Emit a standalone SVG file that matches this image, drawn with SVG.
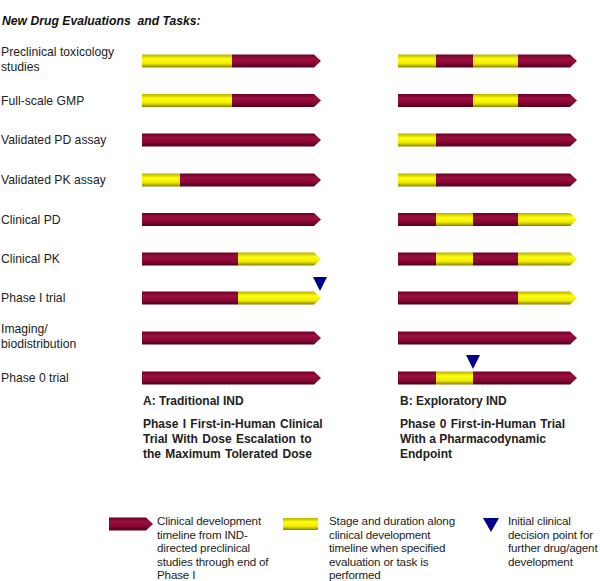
<svg xmlns="http://www.w3.org/2000/svg" width="600" height="581" viewBox="0 0 600 581">
<defs>
<linearGradient id="gr" x1="0" y1="0" x2="0" y2="1">
<stop offset="0" stop-color="#6e0026"/>
<stop offset="0.35" stop-color="#9a1042"/>
<stop offset="0.7" stop-color="#85062f"/>
<stop offset="1" stop-color="#4e0018"/>
</linearGradient>
<linearGradient id="gy" x1="0" y1="0" x2="0" y2="1">
<stop offset="0" stop-color="#b8b000"/>
<stop offset="0.35" stop-color="#ffff10"/>
<stop offset="0.7" stop-color="#eeea00"/>
<stop offset="1" stop-color="#8a8200"/>
</linearGradient>
<style>
.r{fill:url(#gr)}
.y{fill:url(#gy)}
.lbl{font-family:"Liberation Sans",Arial,sans-serif;font-size:12.2px;fill:#222}
.ttl{font-family:"Liberation Sans",Arial,sans-serif;font-size:12.2px;font-weight:bold;font-style:italic;fill:#111}
.hd{font-family:"Liberation Sans",Arial,sans-serif;font-size:12px;font-weight:bold;fill:#222}
.lg{font-family:"Liberation Sans",Arial,sans-serif;font-size:11.6px;fill:#222;letter-spacing:-0.15px}
.tri{fill:#00008b}
</style>
</defs>
<rect width="600" height="581" fill="#fff"/>
<text class="ttl" x="2" y="25" xml:space="preserve">New Drug Evaluations  and Tasks:</text>

<g id="row1">
<text class="lbl" x="1" y="56">Preclinical toxicology</text>
<text class="lbl" x="1" y="71">studies</text>
<rect class="y" x="142" y="54.5" width="90" height="13"/>
<path class="r" d="M232,54.5H314L321,61L314,67.5H232Z"/>
<rect class="y" x="398" y="54.5" width="38" height="13"/>
<rect class="r" x="436" y="54.5" width="37" height="13"/>
<rect class="y" x="473" y="54.5" width="45" height="13"/>
<path class="r" d="M518,54.5H570L577,61L570,67.5H518Z"/>
</g>

<g id="row2">
<text class="lbl" x="1" y="104.5">Full-scale GMP</text>
<rect class="y" x="142" y="94" width="90" height="13"/>
<path class="r" d="M232,94H314L321,100.5L314,107H232Z"/>
<rect class="r" x="398" y="94" width="75" height="13"/>
<rect class="y" x="473" y="94" width="45" height="13"/>
<path class="r" d="M518,94H570L577,100.5L570,107H518Z"/>
</g>

<g id="row3">
<text class="lbl" x="1" y="144">Validated PD assay</text>
<path class="r" d="M142,133.5H314L321,140L314,146.5H142Z"/>
<rect class="y" x="398" y="133.5" width="38" height="13"/>
<path class="r" d="M436,133.5H570L577,140L570,146.5H436Z"/>
</g>

<g id="row4">
<text class="lbl" x="1" y="184">Validated PK assay</text>
<rect class="y" x="142" y="173.5" width="38" height="13"/>
<path class="r" d="M180,173.5H314L321,180L314,186.5H180Z"/>
<rect class="y" x="398" y="173.5" width="38" height="13"/>
<path class="r" d="M436,173.5H570L577,180L570,186.5H436Z"/>
</g>

<g id="row5">
<text class="lbl" x="1" y="223.5">Clinical PD</text>
<path class="r" d="M142,213H314L321,219.5L314,226H142Z"/>
<rect class="r" x="398" y="213" width="38" height="13"/>
<rect class="y" x="436" y="213" width="37" height="13"/>
<rect class="r" x="473" y="213" width="45" height="13"/>
<path class="y" d="M518,213H570L577,219.5L570,226H518Z"/>
</g>

<g id="row6">
<text class="lbl" x="1" y="263">Clinical PK</text>
<rect class="r" x="142" y="252.5" width="96" height="13"/>
<path class="y" d="M238,252.5H314L321,259L314,265.5H238Z"/>
<rect class="r" x="398" y="252.5" width="38" height="13"/>
<rect class="y" x="436" y="252.5" width="37" height="13"/>
<rect class="r" x="473" y="252.5" width="45" height="13"/>
<path class="y" d="M518,252.5H570L577,259L570,265.5H518Z"/>
</g>

<g id="row7">
<text class="lbl" x="1" y="302">Phase I trial</text>
<rect class="r" x="142" y="291.5" width="96" height="13"/>
<path class="y" d="M238,291.5H314L321,298L314,304.5H238Z"/>
<rect class="r" x="398" y="291.5" width="120" height="13"/>
<path class="y" d="M518,291.5H570L577,298L570,304.5H518Z"/>
<path class="tri" d="M313,277H327L320,291Z"/>
</g>

<g id="row8">
<text class="lbl" x="1" y="333">Imaging/</text>
<text class="lbl" x="1" y="348">biodistribution</text>
<path class="r" d="M142,331.5H314L321,338L314,344.5H142Z"/>
<path class="r" d="M398,331.5H570L577,338L570,344.5H398Z"/>
</g>

<g id="row9">
<text class="lbl" x="1" y="382">Phase 0 trial</text>
<path class="r" d="M142,371.5H314L321,378L314,384.5H142Z"/>
<rect class="r" x="398" y="371.5" width="38" height="13"/>
<rect class="y" x="436" y="371.5" width="37" height="13"/>
<path class="r" d="M473,371.5H570L577,378L570,384.5H473Z"/>
<path class="tri" d="M466,355H480L473,369Z"/>
</g>

<g id="captionA">
<text class="hd" x="143" y="405">A: Traditional IND</text>
<text class="hd" x="143" y="428" word-spacing="1">Phase I First-in-Human Clinical</text>
<text class="hd" x="143" y="443" word-spacing="1">Trial With Dose Escalation to</text>
<text class="hd" x="143" y="458" word-spacing="1">the Maximum Tolerated Dose</text>
</g>
<g id="captionB">
<text class="hd" x="400" y="405">B: Exploratory IND</text>
<text class="hd" x="400" y="428" word-spacing="1">Phase 0 First-in-Human Trial</text>
<text class="hd" x="400" y="443">With a Pharmacodynamic</text>
<text class="hd" x="400" y="458">Endpoint</text>
</g>

<g id="legend-red">
<path class="r" d="M109,517.5H146L153,524L146,530.5H109Z"/>
<text class="lg" x="157" y="525">Clinical development</text>
<text class="lg" x="157" y="538.5">timeline from IND-</text>
<text class="lg" x="157" y="552">directed preclinical</text>
<text class="lg" x="157" y="565.5">studies through end of</text>
<text class="lg" x="157" y="579">Phase I</text>
</g>
<g id="legend-yellow">
<rect class="y" x="283" y="518" width="35" height="12"/>
<text class="lg" x="329" y="525">Stage and duration along</text>
<text class="lg" x="329" y="538.5">clinical development</text>
<text class="lg" x="329" y="552">timeline when specified</text>
<text class="lg" x="329" y="565.5">evaluation or task is</text>
<text class="lg" x="329" y="579">performed</text>
</g>
<g id="legend-tri">
<path class="tri" d="M483,518H499L491,532Z"/>
<text class="lg" x="508" y="525">Initial clinical</text>
<text class="lg" x="508" y="538.5">decision point for</text>
<text class="lg" x="508" y="552">further drug/agent</text>
<text class="lg" x="508" y="565.5">development</text>
</g>
</svg>
